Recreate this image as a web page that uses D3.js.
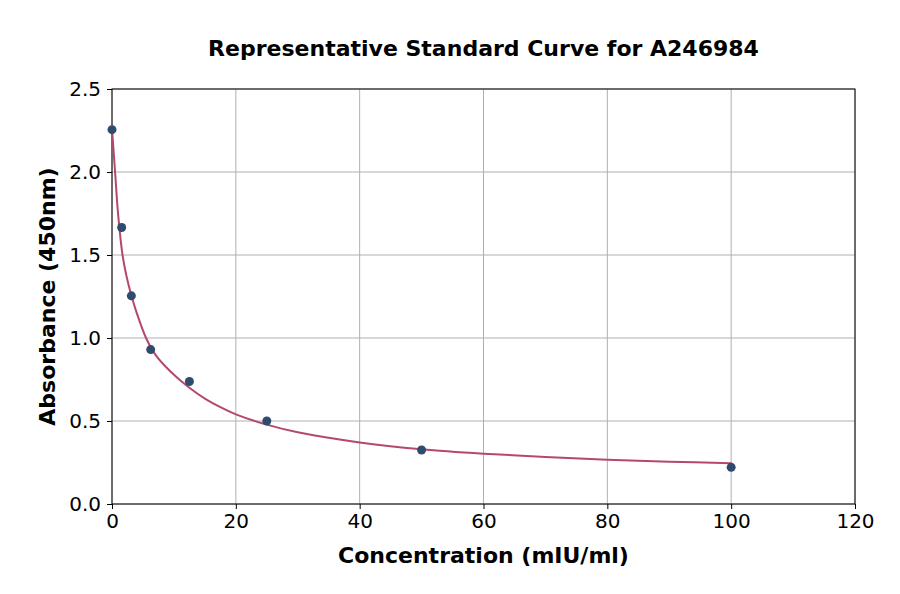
<!DOCTYPE html>
<html>
<head>
<meta charset="utf-8">
<script src="https://cdn.jsdelivr.net/npm/d3@7"></script>
<style>
  body { margin: 0; background: #fff; }
  svg { font-family: 'DejaVu Sans', sans-serif; }
</style>
</head>
<body>
<div id="chart"></div>
<script>
// DATA
const concentrations = [0, 1.5625, 3.125, 6.25, 12.5, 25, 50, 100];
const absorbances = [2.255, 1.666, 1.254, 0.93, 0.738, 0.50, 0.325, 0.221];

// fitted curve
const curveX = [0, 0.5, 1.0, 1.7, 2.3, 3.1, 4.0, 5.5, 7.0, 9.4, 12.5, 15, 17.5, 20, 25, 30, 40, 50, 60, 70, 80, 90, 100];
const curveY = [2.26, 2.0, 1.74, 1.5, 1.38, 1.26, 1.15, 1.0, 0.90, 0.80, 0.70, 0.635, 0.583, 0.54, 0.478, 0.432, 0.371, 0.330, 0.303, 0.283, 0.267, 0.255, 0.246];

const xTicks = [0, 20, 40, 60, 80, 100, 120];
const yTicks = [0, 0.5, 1.0, 1.5, 2.0, 2.5];

const titleText = 'Representative Standard Curve for A246984';
const xLabel = 'Concentration (mIU/ml)';
const yLabel = 'Absorbance (450nm)';

// SETTINGS
const width = 900, height = 594;
const margin = { top: 89, right: 45, bottom: 90, left: 112 };
const graphWidth = width - margin.left - margin.right;
const graphHeight = height - margin.top - margin.bottom;
const lineColor = '#b5486e';
const dotColor = '#2f4b6e';
const gridColor = '#b0b0b0';

// SCALES
const x = d3.scaleLinear().domain([0, 120]).range([0, graphWidth]);
const y = d3.scaleLinear().domain([0, 2.5]).range([graphHeight, 0]);

const svg = d3.select('#chart')
  .append('svg')
  .attr('width', width)
  .attr('height', height);

const graph = svg.append('g')
  .attr('transform', `translate(${margin.left}, ${margin.top})`);

// GRID
graph.append('g')
  .selectAll('line')
  .data(xTicks)
  .enter().append('line')
    .attr('x1', d => x(d)).attr('x2', d => x(d))
    .attr('y1', 0).attr('y2', graphHeight)
    .attr('stroke', gridColor).attr('stroke-width', 1);

graph.append('g')
  .selectAll('line')
  .data(yTicks)
  .enter().append('line')
    .attr('x1', 0).attr('x2', graphWidth)
    .attr('y1', d => y(d)).attr('y2', d => y(d))
    .attr('stroke', gridColor).attr('stroke-width', 1);

// AXES
const xAxis = d3.axisBottom(x)
  .tickValues(xTicks)
  .tickSize(5)
  .tickPadding(5)
  .tickFormat(d3.format('d'));

const yAxis = d3.axisLeft(y)
  .tickValues(yTicks)
  .tickSize(5)
  .tickPadding(6)
  .tickFormat(d3.format('.1f'));

const xAxisGroup = graph.append('g')
  .attr('transform', `translate(0, ${graphHeight})`)
  .call(xAxis);

const yAxisGroup = graph.append('g')
  .call(yAxis);

[xAxisGroup, yAxisGroup].forEach(g => {
  g.select('.domain').remove();
  g.selectAll('line').attr('stroke', '#000').attr('stroke-width', 1);
  g.selectAll('text')
    .attr('fill', '#000')
    .style('font-family', "'DejaVu Sans', sans-serif")
    .style('font-size', '20px');
});

// FRAME
graph.append('rect')
  .attr('width', graphWidth)
  .attr('height', graphHeight)
  .attr('fill', 'none')
  .attr('stroke', '#000')
  .attr('stroke-width', 1);

// CURVE
const curvePoints = curveX.map((v, i) => ({ c: v, a: curveY[i] }));
const line = d3.line()
  .x(d => x(d.c))
  .y(d => y(d.a))
  .curve(d3.curveCatmullRom.alpha(0.5));

graph.append('path')
  .datum(curvePoints)
  .attr('fill', 'none')
  .attr('stroke', lineColor)
  .attr('stroke-width', 2)
  .attr('d', line);

// POINTS
graph.selectAll('circle')
  .data(concentrations.map((v, i) => ({ c: v, a: absorbances[i] })))
  .enter().append('circle')
    .attr('cx', d => x(d.c))
    .attr('cy', d => y(d.a))
    .attr('r', 4.5)
    .attr('fill', dotColor);

// TITLES
svg.append('text')
  .attr('x', margin.left + graphWidth / 2)
  .attr('y', 56)
  .attr('text-anchor', 'middle')
  .style('font-size', '22px')
  .style('font-weight', 'bold')
  .text(titleText);

svg.append('text')
  .attr('x', margin.left + graphWidth / 2)
  .attr('y', 563)
  .attr('text-anchor', 'middle')
  .style('font-size', '22px')
  .style('font-weight', 'bold')
  .text(xLabel);

svg.append('text')
  .attr('transform', `translate(55, ${margin.top + graphHeight / 2}) rotate(-90)`)
  .attr('text-anchor', 'middle')
  .style('font-size', '22px')
  .style('font-weight', 'bold')
  .text(yLabel);
</script>
</body>
</html>
